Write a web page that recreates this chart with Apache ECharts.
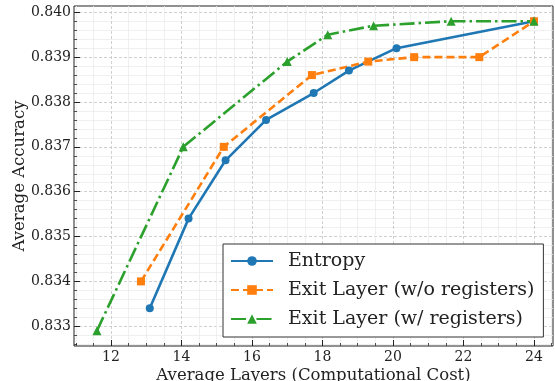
<!DOCTYPE html>
<html>
<head>
<meta charset="utf-8">
<script src="https://cdn.jsdelivr.net/npm/echarts@6/dist/echarts.min.js"></script>
<style>
html,body{margin:0;padding:0;background:#fff}
#main{width:555px;height:381px}
</style>
</head>
<body>
<div id="main"></div>
<script>
// data
var seriesNames = ['Entropy', 'Exit Layer (w/o registers)', 'Exit Layer (w/ registers)'];
var entropyX = [13.1, 14.2, 15.25, 16.4, 17.75, 18.75, 20.1, 24.0];
var entropyY = [0.8334, 0.8354, 0.8367, 0.8376, 0.8382, 0.8387, 0.8392, 0.8398];
var woRegX = [12.85, 15.2, 17.7, 19.3, 20.6, 22.45, 24.0];
var woRegY = [0.8340, 0.8370, 0.8386, 0.8389, 0.8390, 0.8390, 0.8398];
var wRegX = [11.6, 14.05, 17.0, 18.15, 19.45, 21.65, 24.0];
var wRegY = [0.8329, 0.8370, 0.8389, 0.8395, 0.8397, 0.8398, 0.8398];
var xTicks = [12, 14, 16, 18, 20, 22, 24];
var yTicks = [0.833, 0.834, 0.835, 0.836, 0.837, 0.838, 0.839, 0.840];

var FONT = 'DejaVu Serif';
var xMin = 10.95, xMax = 24.54;
var yMin = 0.83256, yMax = 0.84014;

function pairs(xs, ys){
    var out = [];
    for (var i = 0; i < xs.length; i++) out.push([xs[i], ys[i]]);
    return out;
}

// minor ticks between the major ones
function minorTicks(ticks, step, lo, hi, digits){
    var out = [], f = Math.pow(10, digits);
    var start = ticks[0] - (ticks[1] - ticks[0]);
    var end = ticks[ticks.length - 1] + (ticks[1] - ticks[0]);
    for (var v = start; v <= end + step / 2; v += step) {
        var r = Math.round(v * f) / f;
        if (r < lo || r > hi) continue;
        var isMajor = false;
        for (var j = 0; j < ticks.length; j++) if (Math.abs(ticks[j] - r) < step / 10) isMajor = true;
        if (!isMajor) out.push(r);
    }
    return out;
}

var xMinor = minorTicks(xTicks, 0.5, xMin, xMax, 2);
var yMinor = minorTicks(yTicks, 0.0002, yMin, yMax, 5);

function minorAxis(ticks, min, max, pos){
    return {
        type: 'value', min: min, max: max, position: pos,
        axisLine: {show: false},
        axisLabel: {show: false, customValues: ticks},
        axisTick: {show: true, inside: true, length: 3, customValues: ticks, lineStyle: {color: '#222', width: 0.8}},
        splitLine: {show: true, lineStyle: {color: '#ececec', width: 0.8}}
    };
}

function majorAxis(ticks, min, max, pos, extra){
    var a = {
        type: 'value', min: min, max: max, position: pos,
        axisLine: {show: false},
        axisTick: {show: true, inside: true, length: 6, customValues: ticks, lineStyle: {color: '#222', width: 1}},
        axisLabel: {show: true, customValues: ticks, color: '#222', fontFamily: FONT, fontSize: 14, margin: 4},
        splitLine: {show: true, lineStyle: {color: '#cbcbcb', width: 0.9, type: [3, 2]}},
        nameLocation: 'middle',
        nameMoveOverlap: false,
        nameTextStyle: {fontFamily: FONT, fontSize: 16.5, color: '#222'}
    };
    for (var k in extra) a[k] = extra[k];
    return a;
}

var yMajor = majorAxis(yTicks, yMin, yMax, 'left', {name: 'Average Accuracy', nameGap: 46});
yMajor.axisLabel.formatter = function(v){ return v.toFixed(3); };
yMajor.axisLabel.margin = 3;

var option = {
    animation: false,
    backgroundColor: '#fff',
    grid: {left: 74, right: 2, top: 6, bottom: 35, show: true, borderColor: '#222', borderWidth: 1,
        backgroundColor: 'transparent', containLabel: false, outerBoundsMode: 'none'},
    xAxis: [
        minorAxis(xMinor, xMin, xMax, 'bottom'),
        majorAxis(xTicks, xMin, xMax, 'bottom', {name: 'Average Layers (Computational Cost)', nameGap: 21})
    ],
    yAxis: [
        minorAxis(yMinor, yMin, yMax, 'left'),
        yMajor
    ],
    legend: {
        orient: 'vertical',
        left: 223, top: 244,
        padding: [7, 9, 8, 7],
        itemGap: 9,
        itemWidth: 42,
        itemHeight: 12,
        backgroundColor: '#fff',
        borderColor: '#333',
        borderWidth: 1,
        borderRadius: 0,
        textStyle: {fontFamily: FONT, fontSize: 19, color: '#222', lineHeight: 20, padding: [0, 0, 0, 10]},
        data: seriesNames
    },
    series: [
        {
            name: seriesNames[0], type: 'line',
            data: pairs(entropyX, entropyY),
            symbol: 'circle', symbolSize: 8,
            itemStyle: {color: '#1f77b4', borderWidth: 0},
            lineStyle: {color: '#1f77b4', width: 2.6}
        },
        {
            name: seriesNames[1], type: 'line',
            data: pairs(woRegX, woRegY),
            symbol: 'rect', symbolSize: 8,
            itemStyle: {color: '#ff7f0e', borderWidth: 0},
            lineStyle: {color: '#ff7f0e', width: 2.6, type: [8, 4]}
        },
        {
            name: seriesNames[2], type: 'line',
            data: pairs(wRegX, wRegY),
            symbol: 'triangle', symbolSize: 9,
            itemStyle: {color: '#2ca02c', borderWidth: 0},
            lineStyle: {color: '#2ca02c', width: 2.6, type: [15, 4, 2.5, 4]}
        }
    ]
};

echarts.init(document.getElementById('main')).setOption(option);
</script>
</body>
</html>
